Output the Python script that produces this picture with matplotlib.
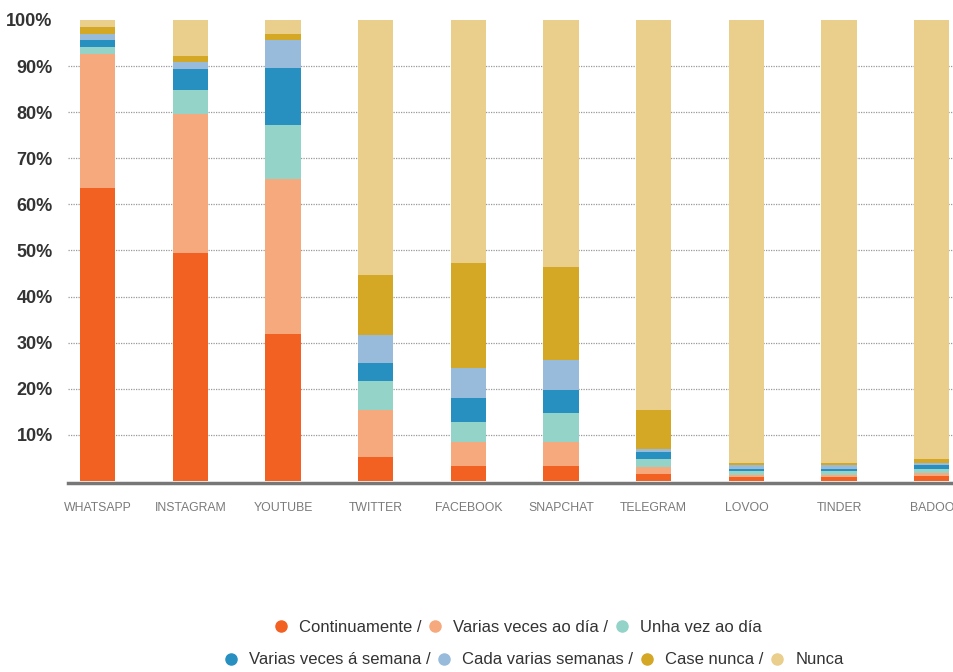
import numpy as np
import matplotlib
matplotlib.use('Agg')
import matplotlib.pyplot as plt
from matplotlib.lines import Line2D
from matplotlib import font_manager

apps = ['WHATSAPP', 'INSTAGRAM', 'YOUTUBE', 'TWITTER', 'FACEBOOK',
        'SNAPCHAT', 'TELEGRAM', 'LOVOO', 'TINDER', 'BADOO']
categories = ['Continuamente', 'Varias veces ao día', 'Unha vez ao día',
              'Varias veces á semana', 'Cada varias semanas', 'Case nunca', 'Nunca']

continuamente = [63.5, 49.5, 31.9, 5.3, 3.2, 3.2, 1.6, 0.8, 0.8, 1.0]
varias_dia    = [29.1, 30.2, 33.7, 10.0, 5.2, 5.2, 1.5, 0.6, 0.6, 0.8]
unha_dia      = [1.5, 5.1, 11.6, 6.4, 4.3, 6.3, 1.6, 0.7, 0.7, 0.7]
varias_semana = [1.5, 4.5, 12.4, 3.9, 5.3, 5.0, 1.5, 0.6, 0.6, 0.9]
cada_semanas  = [1.4, 1.6, 6.0, 6.1, 6.5, 6.5, 0.7, 0.7, 0.7, 0.6]
case_nunca    = [1.5, 1.3, 1.3, 13.0, 22.8, 20.3, 8.4, 0.6, 0.6, 0.7]
nunca         = [1.5, 7.8, 3.1, 55.3, 52.7, 53.5, 84.7, 96.0, 96.0, 95.3]

series = [continuamente, varias_dia, unha_dia, varias_semana,
          cada_semanas, case_nunca, nunca]
colors = ['#F26122', '#F6A97D', '#93D3C8', '#288FC1', '#98BADB', '#D4A725', '#E9CE8C']

names = {f.name for f in font_manager.fontManager.ttflist}
cond = 'Liberation Sans Narrow' if 'Liberation Sans Narrow' in names else 'Liberation Sans'

fig = plt.figure(figsize=(9.54, 6.72), dpi=100)
ax = fig.add_axes([68 / 954, 1 - 481 / 672, 1 - 68 / 954, 461 / 672])

x = np.arange(len(apps))
bottom = np.zeros(len(apps))
for vals, col in zip(series, colors):
    ax.bar(x, vals, bottom=bottom, width=0.38, color=col, zorder=3)
    bottom += np.array(vals)

# spines first: set_position resets the ticks
for s in ['top', 'right', 'left']:
    ax.spines[s].set_visible(False)
ax.spines['bottom'].set_color('#777777')
ax.spines['bottom'].set_linewidth(2.5)
ax.spines['bottom'].set_position(('data', -0.4))

ax.tick_params(axis='both', length=0)
ax.tick_params(axis='x', pad=14)
ax.tick_params(axis='y', pad=11)

ax.set_xlim(-0.32, 9.24)
ax.set_ylim(0, 100)
ax.set_yticks(range(10, 101, 10))
ax.set_yticklabels([f'{v}%' for v in range(10, 101, 10)],
                   fontsize=13, fontweight='bold', color='#333333', family=cond)
for v in range(10, 100, 10):
    ax.axhline(v, color='#999999', lw=0.9, ls=(0, (1, 1)), zorder=1)

ax.set_xticks(x)
ax.set_xticklabels(apps, fontsize=8.8, color='#7a7a7a', family=cond)

def handles(idx, labels):
    return [Line2D([], [], marker='o', ls='', markersize=8, color=colors[i]) for i in idx], labels

h1, l1 = handles([0, 1, 2], ['Continuamente /', 'Varias veces ao día /', 'Unha vez ao día'])
h2, l2 = handles([3, 4, 5, 6], ['Varias veces á semana /', 'Cada varias semanas /', 'Case nunca /', 'Nunca'])

leg1 = fig.legend(h1, l1, ncol=3, frameon=False, loc='center', bbox_to_anchor=(517 / 954, 1 - 627 / 672),
                  prop={'family': cond, 'size': 12}, handletextpad=0.6, columnspacing=0.3,
                  handlelength=1.0, labelcolor='#333333')
leg2 = fig.legend(h2, l2, ncol=4, frameon=False, loc='center', bbox_to_anchor=(533 / 954, 1 - 660 / 672),
                  prop={'family': cond, 'size': 12}, handletextpad=0.6, columnspacing=0.3,
                  handlelength=1.0, labelcolor='#333333')

fig.savefig('out.png', dpi=100)
